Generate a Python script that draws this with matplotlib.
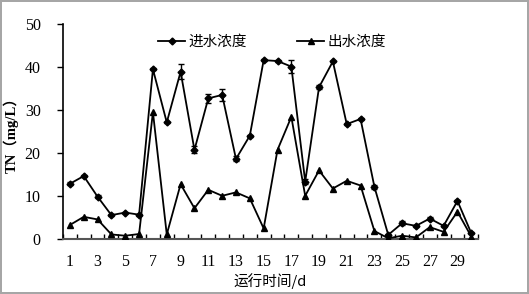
import matplotlib

matplotlib.use("Agg")
import matplotlib.pyplot as plt

days = list(range(1, 31))
influent = [12.8, 14.6, 9.8, 5.5, 6.1, 5.6, 39.5, 27.1, 38.9, 20.7,
            32.7, 33.5, 18.6, 24.0, 41.6, 41.4, 40.1, 13.3, 35.3, 41.3,
            26.7, 27.9, 12.1, 0.9, 3.6, 3.0, 4.7, 3.0, 8.8, 1.3]
influent_err = [0.3, 0.2, 0.3, 0.2, 0.2, 0.2, 0.3, 0.2, 1.8, 0.8,
                1.0, 1.3, 0.6, 0.2, 0.2, 0.3, 1.5, 0.5, 0.5, 0.2,
                0.2, 0.3, 0.4, 0.3, 0.5, 0.3, 0.3, 0.2, 0.3, 0.2]
effluent = [3.2, 5.1, 4.5, 1.0, 0.7, 1.1, 29.5, 1.0, 12.7, 7.1,
            11.4, 10.0, 10.8, 9.4, 2.4, 20.7, 28.4, 10.0, 15.9, 11.7,
            13.5, 12.4, 1.8, 0.1, 0.7, 0.3, 2.7, 1.6, 6.3, 0.5]
xtick_labels = [str(d) for d in range(1, 31, 2)]

serif = "Liberation Serif"
cjk = ["Noto Sans CJK SC", "DejaVu Sans"]

fig = plt.figure(figsize=(5.29, 2.94), dpi=100, edgecolor="#a6a6a6", linewidth=1.5)
ax = fig.add_axes([0.119, 0.188, 0.785, 0.730])

h_in = ax.errorbar(days, influent, yerr=influent_err, color="black", linewidth=1.3,
                   marker="D", markersize=3.5, capsize=2.5, elinewidth=1.0,
                   capthick=1.0, zorder=3)
h_out, = ax.plot(days, effluent, color="black", linewidth=1.3, marker="^",
                 markersize=5, zorder=3)

ax.set_xlim(0.5, 30.5)
ax.set_ylim(0, 50)
ax.set_yticks(range(0, 51, 10))
ax.set_xticks([x + 0.5 for x in range(0, 31)])
ax.set_xticklabels([])
ax.set_xticks(range(1, 31, 2), minor=True)
ax.set_xticklabels(xtick_labels, minor=True)
ax.tick_params(axis="x", which="major", direction="in", length=3.5, width=1.0)
ax.tick_params(axis="x", which="minor", length=0, pad=11)
ax.tick_params(axis="y", direction="out", length=4, width=1.0, pad=12)
for lbl in ax.get_xticklabels(minor=True) + ax.get_yticklabels():
    lbl.set_fontfamily(serif)
    lbl.set_fontsize(11.5)

for side in ("top", "right"):
    ax.spines[side].set_visible(False)
ax.spines["left"].set_linewidth(1.2)
ax.spines["bottom"].set_linewidth(1.5)
ax.spines["bottom"].set_color("#555555")

ax.set_xlabel("运行时间/d", family=cjk, fontsize=10.5, labelpad=2)
ax.set_ylabel("TN（mg/L）", family=[serif, "Noto Sans CJK SC"], fontsize=10.5,
              fontweight="bold", labelpad=4)

# legend shows plain line + marker for the influent series (no error bar)
ax.legend([h_in[0], h_out], ["进水浓度", "出水浓度"], loc="center left",
          bbox_to_anchor=(0.229, 0.916), borderaxespad=0, borderpad=0, ncol=2,
          frameon=False, prop={"family": cjk, "size": 10.5},
          handlelength=1.85, columnspacing=3.5, handletextpad=0.2)

fig.savefig("out.png", dpi=100, edgecolor=fig.get_edgecolor())
